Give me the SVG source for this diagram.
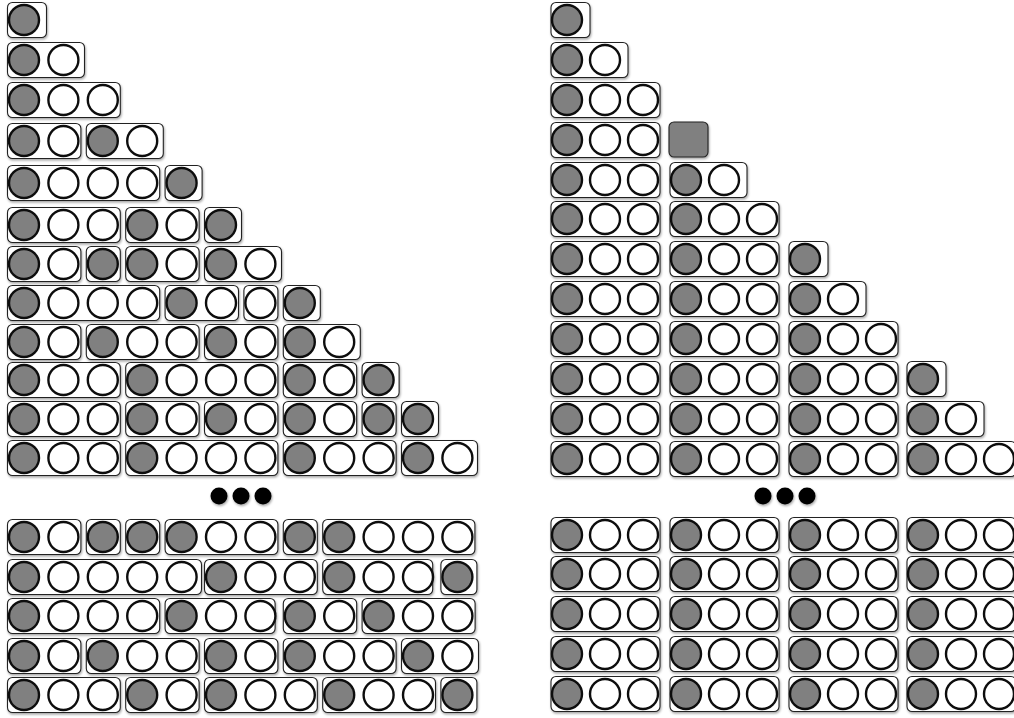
<svg xmlns="http://www.w3.org/2000/svg" xmlns:xlink="http://www.w3.org/1999/xlink" width="1014" height="718" viewBox="0 0 1014 718">
<defs>
<filter id="sh" x="-20%" y="-30%" width="140%" height="170%">
<feDropShadow dx="0.8" dy="1.6" stdDeviation="1.2" flood-color="#000" flood-opacity="0.35"/>
</filter>
<circle id="cg" r="15" fill="#808080" stroke="#111" stroke-width="2.4"/>
<circle id="cw" r="15" fill="#fff" stroke="#111" stroke-width="2.4"/>
</defs>
<style>
.b{fill:#fff;stroke:#222;stroke-width:1.1}
.t{filter:url(#sh)}
.dot{fill:#000}
</style>
<rect width="1014" height="718" fill="#fff"/>
<g id="connectors"/>
<!-- LEFT PANEL -->
<g id="left">
<!-- row 0 -->
<g id="L0a" class="t" transform="translate(24,20)"><rect class="b" x="-16.5" y="-17.5" width="39" height="35" rx="5"/><use href="#cg"/></g>
<!-- row 1 -->
<g id="L1a" class="t" transform="translate(24,60)"><rect class="b" x="-16.5" y="-17.5" width="77" height="35" rx="5"/><use href="#cg"/><use href="#cw" x="39.4"/></g>
<!-- row 2 -->
<g id="L2a" class="t" transform="translate(24,100)"><rect class="b" x="-16.5" y="-17.5" width="112.8" height="35" rx="5"/><use href="#cg"/><use href="#cw" x="39.4"/><use href="#cw" x="78.8"/></g>
<!-- row 3 -->
<g id="L3a" class="t" transform="translate(24,141)"><rect class="b" x="-16.5" y="-17.5" width="73.4" height="35" rx="5"/><use href="#cg"/><use href="#cw" x="39.4"/></g>
<g id="L3b" class="t" transform="translate(102.8,141)"><rect class="b" x="-16.5" y="-17.5" width="77" height="35" rx="5"/><use href="#cg"/><use href="#cw" x="39.4"/></g>
<!-- row 4 -->
<g id="L4a" class="t" transform="translate(24,183)"><rect class="b" x="-16.5" y="-17.5" width="152.2" height="35" rx="5"/><use href="#cg"/><use href="#cw" x="39.4"/><use href="#cw" x="78.8"/><use href="#cw" x="118.2"/></g>
<g id="L4b" class="t" transform="translate(181.6,183)"><rect class="b" x="-16.5" y="-17.5" width="37" height="35" rx="5"/><use href="#cg"/></g>
<!-- row 5 -->
<g id="L5a" class="t" transform="translate(24,225)"><rect class="b" x="-16.5" y="-17.5" width="112.8" height="35" rx="5"/><use href="#cg"/><use href="#cw" x="39.4"/><use href="#cw" x="78.8"/></g>
<g id="L5b" class="t" transform="translate(142.2,225)"><rect class="b" x="-16.5" y="-17.5" width="73.4" height="35" rx="5"/><use href="#cg"/><use href="#cw" x="39.4"/></g>
<g id="L5c" class="t" transform="translate(221,225)"><rect class="b" x="-16.5" y="-17.5" width="37" height="35" rx="5"/><use href="#cg"/></g>
<!-- row 6 -->
<g id="L6a" class="t" transform="translate(24,264)"><rect class="b" x="-16.5" y="-17.5" width="73.4" height="35" rx="5"/><use href="#cg"/><use href="#cw" x="39.4"/></g>
<g id="L6b" class="t" transform="translate(102.8,264)"><rect class="b" x="-16.5" y="-17.5" width="34" height="35" rx="5"/><use href="#cg"/></g>
<g id="L6c" class="t" transform="translate(142.2,264)"><rect class="b" x="-16.5" y="-17.5" width="73.4" height="35" rx="5"/><use href="#cg"/><use href="#cw" x="39.4"/></g>
<g id="L6d" class="t" transform="translate(221,264)"><rect class="b" x="-16.5" y="-17.5" width="77" height="35" rx="5"/><use href="#cg"/><use href="#cw" x="39.4"/></g>
<!-- row 7 -->
<g id="L7a" class="t" transform="translate(24,303)"><rect class="b" x="-16.5" y="-17.5" width="152.2" height="35" rx="5"/><use href="#cg"/><use href="#cw" x="39.4"/><use href="#cw" x="78.8"/><use href="#cw" x="118.2"/></g>
<g id="L7b" class="t" transform="translate(181.6,303)"><rect class="b" x="-16.5" y="-17.5" width="73.4" height="35" rx="5"/><use href="#cg"/><use href="#cw" x="39.4"/></g>
<g id="L7c" class="t" transform="translate(260.4,303)"><rect class="b" x="-16.5" y="-17.5" width="34" height="35" rx="5"/><use href="#cw"/></g>
<g id="L7d" class="t" transform="translate(299.8,303)"><rect class="b" x="-16.5" y="-17.5" width="37" height="35" rx="5"/><use href="#cg"/></g>
<!-- row 8 -->
<g id="L8a" class="t" transform="translate(24,342)"><rect class="b" x="-16.5" y="-17.5" width="73.4" height="35" rx="5"/><use href="#cg"/><use href="#cw" x="39.4"/></g>
<g id="L8b" class="t" transform="translate(102.8,342)"><rect class="b" x="-16.5" y="-17.5" width="112.8" height="35" rx="5"/><use href="#cg"/><use href="#cw" x="39.4"/><use href="#cw" x="78.8"/></g>
<g id="L8c" class="t" transform="translate(221,342)"><rect class="b" x="-16.5" y="-17.5" width="73.4" height="35" rx="5"/><use href="#cg"/><use href="#cw" x="39.4"/></g>
<g id="L8d" class="t" transform="translate(299.8,342)"><rect class="b" x="-16.5" y="-17.5" width="77" height="35" rx="5"/><use href="#cg"/><use href="#cw" x="39.4"/></g>
<!-- row 9 -->
<g id="L9a" class="t" transform="translate(24,380)"><rect class="b" x="-16.5" y="-17.5" width="112.8" height="35" rx="5"/><use href="#cg"/><use href="#cw" x="39.4"/><use href="#cw" x="78.8"/></g>
<g id="L9b" class="t" transform="translate(142.2,380)"><rect class="b" x="-16.5" y="-17.5" width="152.2" height="35" rx="5"/><use href="#cg"/><use href="#cw" x="39.4"/><use href="#cw" x="78.8"/><use href="#cw" x="118.2"/></g>
<g id="L9c" class="t" transform="translate(299.8,380)"><rect class="b" x="-16.5" y="-17.5" width="73.4" height="35" rx="5"/><use href="#cg"/><use href="#cw" x="39.4"/></g>
<g id="L9d" class="t" transform="translate(378.6,380)"><rect class="b" x="-16.5" y="-17.5" width="37" height="35" rx="5"/><use href="#cg"/></g>
<!-- row 10 -->
<g id="L10a" class="t" transform="translate(24,419)"><rect class="b" x="-16.5" y="-17.5" width="112.8" height="35" rx="5"/><use href="#cg"/><use href="#cw" x="39.4"/><use href="#cw" x="78.8"/></g>
<g id="L10b" class="t" transform="translate(142.2,419)"><rect class="b" x="-16.5" y="-17.5" width="73.4" height="35" rx="5"/><use href="#cg"/><use href="#cw" x="39.4"/></g>
<g id="L10c" class="t" transform="translate(221,419)"><rect class="b" x="-16.5" y="-17.5" width="73.4" height="35" rx="5"/><use href="#cg"/><use href="#cw" x="39.4"/></g>
<g id="L10d" class="t" transform="translate(299.8,419)"><rect class="b" x="-16.5" y="-17.5" width="73.4" height="35" rx="5"/><use href="#cg"/><use href="#cw" x="39.4"/></g>
<g id="L10e" class="t" transform="translate(378.6,419)"><rect class="b" x="-16.5" y="-17.5" width="34" height="35" rx="5"/><use href="#cg"/></g>
<g id="L10f" class="t" transform="translate(418,419)"><rect class="b" x="-16.5" y="-17.5" width="37" height="35" rx="5"/><use href="#cg"/></g>
<!-- row 11 -->
<g id="L11a" class="t" transform="translate(24,458)"><rect class="b" x="-16.5" y="-17.5" width="112.8" height="35" rx="5"/><use href="#cg"/><use href="#cw" x="39.4"/><use href="#cw" x="78.8"/></g>
<g id="L11b" class="t" transform="translate(142.2,458)"><rect class="b" x="-16.5" y="-17.5" width="152.2" height="35" rx="5"/><use href="#cg"/><use href="#cw" x="39.4"/><use href="#cw" x="78.8"/><use href="#cw" x="118.2"/></g>
<g id="L11c" class="t" transform="translate(299.8,458)"><rect class="b" x="-16.5" y="-17.5" width="112.8" height="35" rx="5"/><use href="#cg"/><use href="#cw" x="39.4"/><use href="#cw" x="78.8"/></g>
<g id="L11d" class="t" transform="translate(418,458)"><rect class="b" x="-16.5" y="-17.5" width="76" height="35" rx="5"/><use href="#cg"/><use href="#cw" x="39.4"/></g>
<!-- ellipsis -->
<g id="Ldots" class="t"><circle class="dot" cx="219" cy="496" r="8.5"/><circle class="dot" cx="241" cy="496" r="8.5"/><circle class="dot" cx="263" cy="496" r="8.5"/></g>
<!-- bottom row 0 -->
<g id="LB0a" class="t" transform="translate(24,537)"><rect class="b" x="-16.5" y="-17.5" width="73.4" height="35" rx="5"/><use href="#cg"/><use href="#cw" x="39.4"/></g>
<g id="LB0b" class="t" transform="translate(102.8,537)"><rect class="b" x="-16.5" y="-17.5" width="34" height="35" rx="5"/><use href="#cg"/></g>
<g id="LB0c" class="t" transform="translate(142.2,537)"><rect class="b" x="-16.5" y="-17.5" width="34" height="35" rx="5"/><use href="#cg"/></g>
<g id="LB0d" class="t" transform="translate(181.6,537)"><rect class="b" x="-16.5" y="-17.5" width="112.8" height="35" rx="5"/><use href="#cg"/><use href="#cw" x="39.4"/><use href="#cw" x="78.8"/></g>
<g id="LB0e" class="t" transform="translate(299.8,537)"><rect class="b" x="-16.5" y="-17.5" width="34" height="35" rx="5"/><use href="#cg"/></g>
<g id="LB0f" class="t" transform="translate(339.2,537)"><rect class="b" x="-16.5" y="-17.5" width="152.2" height="35" rx="5"/><use href="#cg"/><use href="#cw" x="39.4"/><use href="#cw" x="78.8"/><use href="#cw" x="118.2"/></g>
<!-- bottom row 1 -->
<g id="LB1a" class="t" transform="translate(24,577)"><rect class="b" x="-16.5" y="-17.5" width="194" height="35" rx="5"/><use href="#cg"/><use href="#cw" x="39.4"/><use href="#cw" x="78.8"/><use href="#cw" x="118.2"/><use href="#cw" x="157.6"/></g>
<g id="LB1b" class="t" transform="translate(221,577)"><rect class="b" x="-16.5" y="-17.5" width="112.8" height="35" rx="5"/><use href="#cg"/><use href="#cw" x="39.4"/><use href="#cw" x="78.8"/></g>
<g id="LB1c" class="t" transform="translate(339.2,577)"><rect class="b" x="-16.5" y="-17.5" width="110" height="35" rx="5"/><use href="#cg"/><use href="#cw" x="39.4"/><use href="#cw" x="78.8"/></g>
<g id="LB1d" class="t" transform="translate(457.4,577)"><rect class="b" x="-16.5" y="-17.5" width="36" height="35" rx="5"/><use href="#cg"/></g>
<!-- bottom row 2 -->
<g id="LB2a" class="t" transform="translate(24,616)"><rect class="b" x="-16.5" y="-17.5" width="152.2" height="35" rx="5"/><use href="#cg"/><use href="#cw" x="39.4"/><use href="#cw" x="78.8"/><use href="#cw" x="118.2"/></g>
<g id="LB2b" class="t" transform="translate(181.6,616)"><rect class="b" x="-16.5" y="-17.5" width="110" height="35" rx="5"/><use href="#cg"/><use href="#cw" x="39.4"/><use href="#cw" x="78.8"/></g>
<g id="LB2c" class="t" transform="translate(299.8,616)"><rect class="b" x="-16.5" y="-17.5" width="73.4" height="35" rx="5"/><use href="#cg"/><use href="#cw" x="39.4"/></g>
<g id="LB2d" class="t" transform="translate(378.6,616)"><rect class="b" x="-16.5" y="-17.5" width="113" height="35" rx="5"/><use href="#cg"/><use href="#cw" x="39.4"/><use href="#cw" x="78.8"/></g>
<!-- bottom row 3 -->
<g id="LB3a" class="t" transform="translate(24,656)"><rect class="b" x="-16.5" y="-17.5" width="73.4" height="35" rx="5"/><use href="#cg"/><use href="#cw" x="39.4"/></g>
<g id="LB3b" class="t" transform="translate(102.8,656)"><rect class="b" x="-16.5" y="-17.5" width="112.8" height="35" rx="5"/><use href="#cg"/><use href="#cw" x="39.4"/><use href="#cw" x="78.8"/></g>
<g id="LB3c" class="t" transform="translate(221,656)"><rect class="b" x="-16.5" y="-17.5" width="73.4" height="35" rx="5"/><use href="#cg"/><use href="#cw" x="39.4"/></g>
<g id="LB3d" class="t" transform="translate(299.8,656)"><rect class="b" x="-16.5" y="-17.5" width="112.8" height="35" rx="5"/><use href="#cg"/><use href="#cw" x="39.4"/><use href="#cw" x="78.8"/></g>
<g id="LB3e" class="t" transform="translate(418,656)"><rect class="b" x="-16.5" y="-17.5" width="77" height="35" rx="5"/><use href="#cg"/><use href="#cw" x="39.4"/></g>
<!-- bottom row 4 -->
<g id="LB4a" class="t" transform="translate(24,695)"><rect class="b" x="-16.5" y="-17.5" width="112.8" height="35" rx="5"/><use href="#cg"/><use href="#cw" x="39.4"/><use href="#cw" x="78.8"/></g>
<g id="LB4b" class="t" transform="translate(142.2,695)"><rect class="b" x="-16.5" y="-17.5" width="73.4" height="35" rx="5"/><use href="#cg"/><use href="#cw" x="39.4"/></g>
<g id="LB4c" class="t" transform="translate(221,695)"><rect class="b" x="-16.5" y="-17.5" width="112.8" height="35" rx="5"/><use href="#cg"/><use href="#cw" x="39.4"/><use href="#cw" x="78.8"/></g>
<g id="LB4d" class="t" transform="translate(339.2,695)"><rect class="b" x="-16.5" y="-17.5" width="112.8" height="35" rx="5"/><use href="#cg"/><use href="#cw" x="39.4"/><use href="#cw" x="78.8"/></g>
<g id="LB4e" class="t" transform="translate(457.4,695)"><rect class="b" x="-16.5" y="-17.5" width="36" height="35" rx="5"/><use href="#cg"/></g>
</g>
<!-- RIGHT PANEL -->
<g id="right">
<g id="R0a" class="t" transform="translate(567,20)"><rect class="b" x="-16" y="-17.5" width="39" height="35" rx="5"/><use href="#cg"/></g>
<g id="R1a" class="t" transform="translate(567,60)"><rect class="b" x="-16" y="-17.5" width="77" height="35" rx="5"/><use href="#cg"/><use href="#cw" x="38"/></g>
<g id="R2a" class="t" transform="translate(567,100)"><rect class="b" x="-16" y="-17.5" width="109" height="35" rx="5"/><use href="#cg"/><use href="#cw" x="38"/><use href="#cw" x="76"/></g>
<g id="R3a" class="t" transform="translate(567,140)"><rect class="b" x="-16" y="-17.5" width="109" height="35" rx="5"/><use href="#cg"/><use href="#cw" x="38"/><use href="#cw" x="76"/></g>
<g id="R3sq" class="t"><rect x="669" y="122" width="39" height="35" rx="5" fill="#808080" stroke="#222" stroke-width="1.1"/></g>
<g id="R4a" class="t" transform="translate(567,180)"><rect class="b" x="-16" y="-17.5" width="109" height="35" rx="5"/><use href="#cg"/><use href="#cw" x="38"/><use href="#cw" x="76"/></g>
<g id="R4b" class="t" transform="translate(686,180)"><rect class="b" x="-16" y="-17.5" width="77" height="35" rx="5"/><use href="#cg"/><use href="#cw" x="38"/></g>
<g id="R5a" class="t" transform="translate(567,219)"><rect class="b" x="-16" y="-17.5" width="109" height="35" rx="5"/><use href="#cg"/><use href="#cw" x="38"/><use href="#cw" x="76"/></g>
<g id="R5b" class="t" transform="translate(686,219)"><rect class="b" x="-16" y="-17.5" width="109" height="35" rx="5"/><use href="#cg"/><use href="#cw" x="38"/><use href="#cw" x="76"/></g>
<g id="R6a" class="t" transform="translate(567,259)"><rect class="b" x="-16" y="-17.5" width="109" height="35" rx="5"/><use href="#cg"/><use href="#cw" x="38"/><use href="#cw" x="76"/></g>
<g id="R6b" class="t" transform="translate(686,259)"><rect class="b" x="-16" y="-17.5" width="109" height="35" rx="5"/><use href="#cg"/><use href="#cw" x="38"/><use href="#cw" x="76"/></g>
<g id="R6c" class="t" transform="translate(805,259)"><rect class="b" x="-16" y="-17.5" width="39" height="35" rx="5"/><use href="#cg"/></g>
<g id="R7a" class="t" transform="translate(567,299)"><rect class="b" x="-16" y="-17.5" width="109" height="35" rx="5"/><use href="#cg"/><use href="#cw" x="38"/><use href="#cw" x="76"/></g>
<g id="R7b" class="t" transform="translate(686,299)"><rect class="b" x="-16" y="-17.5" width="109" height="35" rx="5"/><use href="#cg"/><use href="#cw" x="38"/><use href="#cw" x="76"/></g>
<g id="R7c" class="t" transform="translate(805,299)"><rect class="b" x="-16" y="-17.5" width="77" height="35" rx="5"/><use href="#cg"/><use href="#cw" x="38"/></g>
<g id="R8a" class="t" transform="translate(567,339)"><rect class="b" x="-16" y="-17.5" width="109" height="35" rx="5"/><use href="#cg"/><use href="#cw" x="38"/><use href="#cw" x="76"/></g>
<g id="R8b" class="t" transform="translate(686,339)"><rect class="b" x="-16" y="-17.5" width="109" height="35" rx="5"/><use href="#cg"/><use href="#cw" x="38"/><use href="#cw" x="76"/></g>
<g id="R8c" class="t" transform="translate(805,339)"><rect class="b" x="-16" y="-17.5" width="109" height="35" rx="5"/><use href="#cg"/><use href="#cw" x="38"/><use href="#cw" x="76"/></g>
<g id="R9a" class="t" transform="translate(567,379)"><rect class="b" x="-16" y="-17.5" width="109" height="35" rx="5"/><use href="#cg"/><use href="#cw" x="38"/><use href="#cw" x="76"/></g>
<g id="R9b" class="t" transform="translate(686,379)"><rect class="b" x="-16" y="-17.5" width="109" height="35" rx="5"/><use href="#cg"/><use href="#cw" x="38"/><use href="#cw" x="76"/></g>
<g id="R9c" class="t" transform="translate(805,379)"><rect class="b" x="-16" y="-17.5" width="109" height="35" rx="5"/><use href="#cg"/><use href="#cw" x="38"/><use href="#cw" x="76"/></g>
<g id="R9d" class="t" transform="translate(923,379)"><rect class="b" x="-16" y="-17.5" width="39" height="35" rx="5"/><use href="#cg"/></g>
<g id="R10a" class="t" transform="translate(567,419)"><rect class="b" x="-16" y="-17.5" width="109" height="35" rx="5"/><use href="#cg"/><use href="#cw" x="38"/><use href="#cw" x="76"/></g>
<g id="R10b" class="t" transform="translate(686,419)"><rect class="b" x="-16" y="-17.5" width="109" height="35" rx="5"/><use href="#cg"/><use href="#cw" x="38"/><use href="#cw" x="76"/></g>
<g id="R10c" class="t" transform="translate(805,419)"><rect class="b" x="-16" y="-17.5" width="109" height="35" rx="5"/><use href="#cg"/><use href="#cw" x="38"/><use href="#cw" x="76"/></g>
<g id="R10d" class="t" transform="translate(923,419)"><rect class="b" x="-16" y="-17.5" width="77" height="35" rx="5"/><use href="#cg"/><use href="#cw" x="38"/></g>
<g id="R11a" class="t" transform="translate(567,459)"><rect class="b" x="-16" y="-17.5" width="109" height="35" rx="5"/><use href="#cg"/><use href="#cw" x="38"/><use href="#cw" x="76"/></g>
<g id="R11b" class="t" transform="translate(686,459)"><rect class="b" x="-16" y="-17.5" width="109" height="35" rx="5"/><use href="#cg"/><use href="#cw" x="38"/><use href="#cw" x="76"/></g>
<g id="R11c" class="t" transform="translate(805,459)"><rect class="b" x="-16" y="-17.5" width="109" height="35" rx="5"/><use href="#cg"/><use href="#cw" x="38"/><use href="#cw" x="76"/></g>
<g id="R11d" class="t" transform="translate(923,459)"><rect class="b" x="-16" y="-17.5" width="109" height="35" rx="5"/><use href="#cg"/><use href="#cw" x="38"/><use href="#cw" x="76"/></g>
<g id="Rdots" class="t"><circle class="dot" cx="763" cy="496" r="8.5"/><circle class="dot" cx="785" cy="496" r="8.5"/><circle class="dot" cx="807" cy="496" r="8.5"/></g>
<g id="RB0a" class="t" transform="translate(567,535)"><rect class="b" x="-16" y="-17.5" width="109" height="35" rx="5"/><use href="#cg"/><use href="#cw" x="38"/><use href="#cw" x="76"/></g>
<g id="RB0b" class="t" transform="translate(686,535)"><rect class="b" x="-16" y="-17.5" width="109" height="35" rx="5"/><use href="#cg"/><use href="#cw" x="38"/><use href="#cw" x="76"/></g>
<g id="RB0c" class="t" transform="translate(805,535)"><rect class="b" x="-16" y="-17.5" width="109" height="35" rx="5"/><use href="#cg"/><use href="#cw" x="38"/><use href="#cw" x="76"/></g>
<g id="RB0d" class="t" transform="translate(923,535)"><rect class="b" x="-16" y="-17.5" width="109" height="35" rx="5"/><use href="#cg"/><use href="#cw" x="38"/><use href="#cw" x="76"/></g>
<g id="RB1a" class="t" transform="translate(567,574)"><rect class="b" x="-16" y="-17.5" width="109" height="35" rx="5"/><use href="#cg"/><use href="#cw" x="38"/><use href="#cw" x="76"/></g>
<g id="RB1b" class="t" transform="translate(686,574)"><rect class="b" x="-16" y="-17.5" width="109" height="35" rx="5"/><use href="#cg"/><use href="#cw" x="38"/><use href="#cw" x="76"/></g>
<g id="RB1c" class="t" transform="translate(805,574)"><rect class="b" x="-16" y="-17.5" width="109" height="35" rx="5"/><use href="#cg"/><use href="#cw" x="38"/><use href="#cw" x="76"/></g>
<g id="RB1d" class="t" transform="translate(923,574)"><rect class="b" x="-16" y="-17.5" width="109" height="35" rx="5"/><use href="#cg"/><use href="#cw" x="38"/><use href="#cw" x="76"/></g>
<g id="RB2a" class="t" transform="translate(567,614)"><rect class="b" x="-16" y="-17.5" width="109" height="35" rx="5"/><use href="#cg"/><use href="#cw" x="38"/><use href="#cw" x="76"/></g>
<g id="RB2b" class="t" transform="translate(686,614)"><rect class="b" x="-16" y="-17.5" width="109" height="35" rx="5"/><use href="#cg"/><use href="#cw" x="38"/><use href="#cw" x="76"/></g>
<g id="RB2c" class="t" transform="translate(805,614)"><rect class="b" x="-16" y="-17.5" width="109" height="35" rx="5"/><use href="#cg"/><use href="#cw" x="38"/><use href="#cw" x="76"/></g>
<g id="RB2d" class="t" transform="translate(923,614)"><rect class="b" x="-16" y="-17.5" width="109" height="35" rx="5"/><use href="#cg"/><use href="#cw" x="38"/><use href="#cw" x="76"/></g>
<g id="RB3a" class="t" transform="translate(567,654)"><rect class="b" x="-16" y="-17.5" width="109" height="35" rx="5"/><use href="#cg"/><use href="#cw" x="38"/><use href="#cw" x="76"/></g>
<g id="RB3b" class="t" transform="translate(686,654)"><rect class="b" x="-16" y="-17.5" width="109" height="35" rx="5"/><use href="#cg"/><use href="#cw" x="38"/><use href="#cw" x="76"/></g>
<g id="RB3c" class="t" transform="translate(805,654)"><rect class="b" x="-16" y="-17.5" width="109" height="35" rx="5"/><use href="#cg"/><use href="#cw" x="38"/><use href="#cw" x="76"/></g>
<g id="RB3d" class="t" transform="translate(923,654)"><rect class="b" x="-16" y="-17.5" width="109" height="35" rx="5"/><use href="#cg"/><use href="#cw" x="38"/><use href="#cw" x="76"/></g>
<g id="RB4a" class="t" transform="translate(567,694)"><rect class="b" x="-16" y="-17.5" width="109" height="35" rx="5"/><use href="#cg"/><use href="#cw" x="38"/><use href="#cw" x="76"/></g>
<g id="RB4b" class="t" transform="translate(686,694)"><rect class="b" x="-16" y="-17.5" width="109" height="35" rx="5"/><use href="#cg"/><use href="#cw" x="38"/><use href="#cw" x="76"/></g>
<g id="RB4c" class="t" transform="translate(805,694)"><rect class="b" x="-16" y="-17.5" width="109" height="35" rx="5"/><use href="#cg"/><use href="#cw" x="38"/><use href="#cw" x="76"/></g>
<g id="RB4d" class="t" transform="translate(923,694)"><rect class="b" x="-16" y="-17.5" width="109" height="35" rx="5"/><use href="#cg"/><use href="#cw" x="38"/><use href="#cw" x="76"/></g>
</g>
</svg>
